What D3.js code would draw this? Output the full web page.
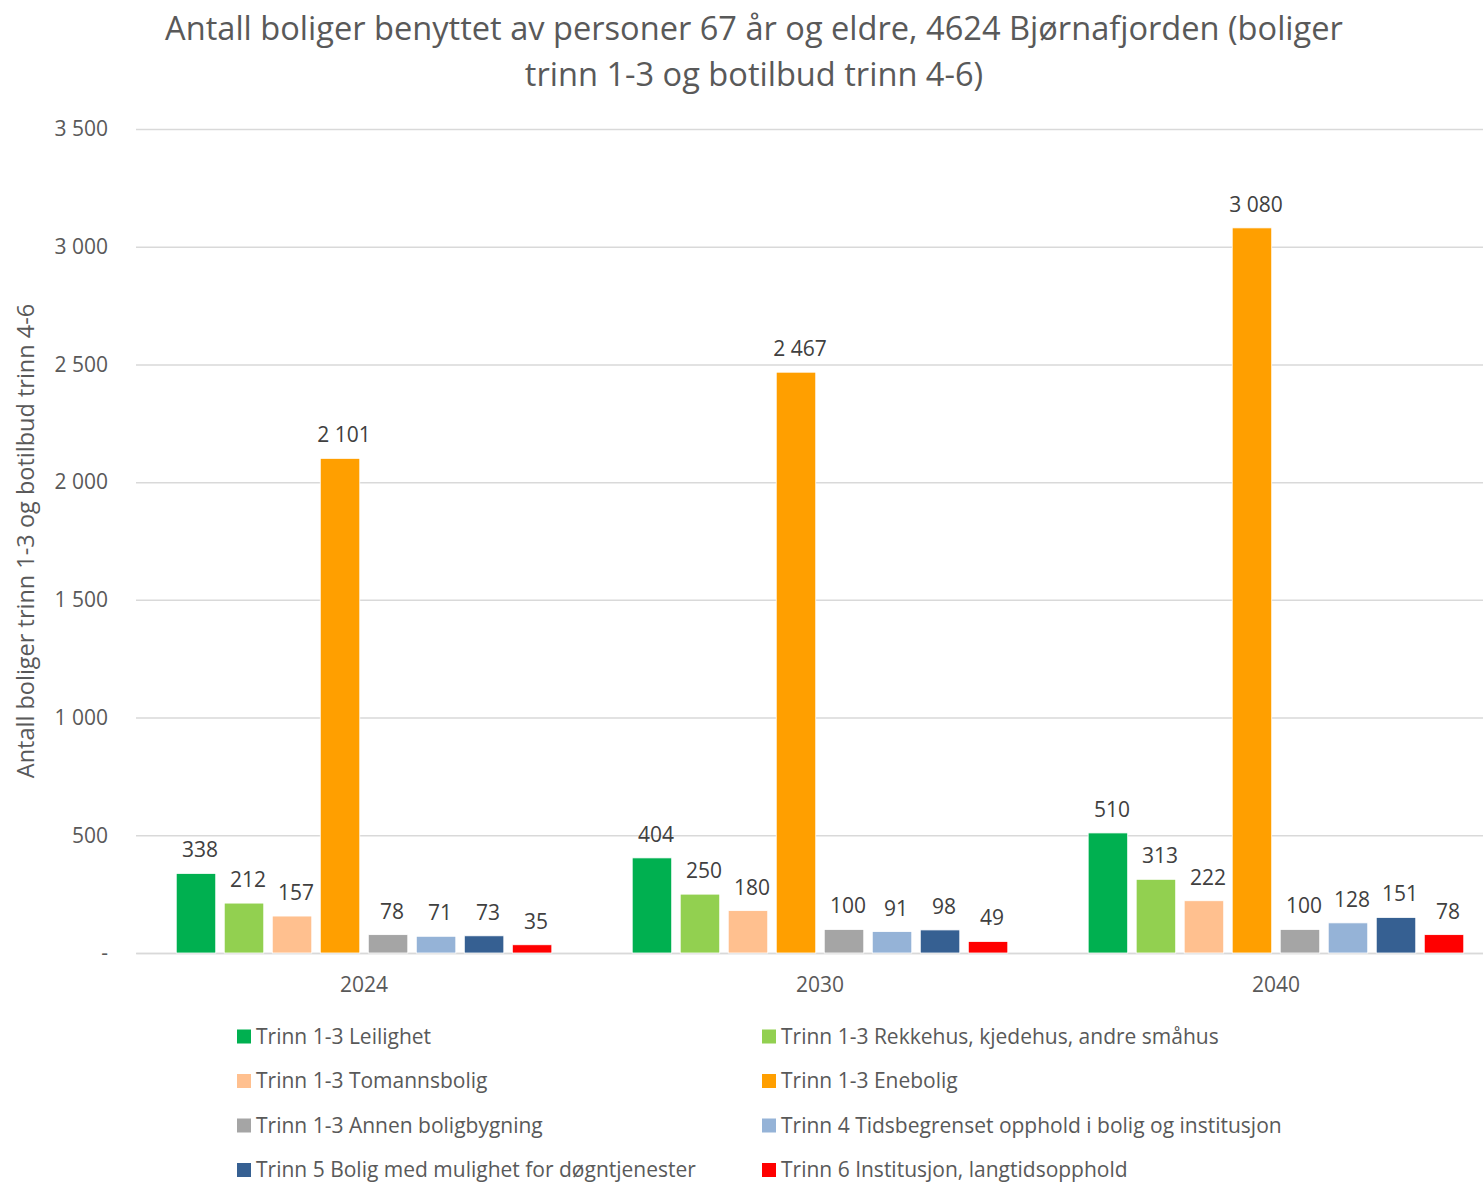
<!DOCTYPE html>
<html><head><meta charset="utf-8">
<script src="https://cdn.jsdelivr.net/npm/d3@7"></script>
<style>body{margin:0;background:#fff}svg{display:block;font-family:"Open Sans",sans-serif}</style>
</head><body>
<svg id="c" width="1483" height="1183"></svg>
<script>
const years = ["2024","2030","2040"];
const seriesNames = ["Trinn 1-3 Leilighet","Trinn 1-3 Rekkehus, kjedehus, andre småhus","Trinn 1-3 Tomannsbolig","Trinn 1-3 Enebolig","Trinn 1-3 Annen boligbygning","Trinn 4 Tidsbegrenset opphold i bolig og institusjon","Trinn 5 Bolig med mulighet for døgntjenester","Trinn 6 Institusjon, langtidsopphold"];
const seriesColors = ["#00B050","#92D050","#FFC08F","#FF9F00","#A5A5A5","#95B3D7","#366092","#FF0000"];
const values = [
  [338,404,510],
  [212,250,313],
  [157,180,222],
  [2101,2467,3080],
  [78,100,100],
  [71,91,128],
  [73,98,151],
  [35,49,78]
];
const yTicks = [0,500,1000,1500,2000,2500,3000,3500];
const titleLines = ["Antall boliger benyttet av personer 67 år og eldre, 4624 Bjørnafjorden (boliger","trinn 1-3 og botilbud trinn 4-6)"];
const yTitle = "Antall boliger trinn 1-3 og botilbud trinn 4-6";

(function(){
const loc = d3.formatLocale({decimal:",",thousands:"\u00a0",grouping:[3],currency:["","kr"]});
const fmt = loc.format(",d");
const tickFmt = v => v===0 ? "-" : fmt(v);

const svg = d3.select("#c");
const pTop = 129, pBottom = 953, pLeft = 136, pRight = 1504;
const y = d3.scaleLinear().domain([0,3500]).range([pBottom, pTop]);
const x0 = d3.scaleBand().domain(years).range([pLeft,pRight]).paddingInner(0.139).paddingOuter(0.0696);
const x1 = d3.scaleBand().domain(d3.range(seriesNames.length)).range([0,x0.bandwidth()]).padding(0.177);

svg.append("g").selectAll("text").data(titleLines).join("text")
  .attr("x",754).attr("y",(d,i)=>40+i*46).attr("text-anchor","middle")
  .attr("fill","#595959").style("font-size","32.6px").text(d=>d);

const yAxis = d3.axisLeft(y).tickValues(yTicks).tickSize(-(pRight-pLeft)).tickFormat(tickFmt).tickPadding(28);
const gy = svg.append("g").attr("transform",`translate(${pLeft},0)`).call(yAxis);
gy.select(".domain").remove();
gy.selectAll(".tick line").attr("stroke","#D9D9D9").attr("stroke-width",1.5);
gy.selectAll(".tick text").attr("fill","#595959").style("font-size","21px").attr("font-family","Open Sans");

const xAxis = d3.axisBottom(x0).tickSize(0).tickPadding(24);
const gx = svg.append("g").attr("transform",`translate(0,${pBottom})`).call(xAxis);
gx.select(".domain").attr("stroke","#D9D9D9").attr("stroke-width",1.5);
gx.selectAll(".tick text").attr("fill","#595959").style("font-size","21px").attr("font-family","Open Sans");

const groups = svg.append("g").selectAll("g").data(years).join("g")
  .attr("transform",d=>`translate(${x0(d)},0)`);
groups.selectAll("rect").data((d,yi)=>values.map((s,si)=>({si,v:s[yi]}))).join("rect")
  .attr("x",d=>x1(d.si)).attr("width",x1.bandwidth())
  .attr("y",d=>y(d.v)).attr("height",d=>pBottom-y(d.v))
  .attr("fill",d=>seriesColors[d.si]).attr("stroke","#fff").attr("stroke-width",0.8);
groups.selectAll("text").data((d,yi)=>values.map((s,si)=>({si,v:s[yi]}))).join("text")
  .attr("x",d=>x1(d.si)+x1.bandwidth()/2+4).attr("y",d=>y(d.v)-16)
  .attr("text-anchor","middle").attr("fill","#404040").style("font-size","21px")
  .text(d=>fmt(d.v));

svg.append("text").attr("transform","translate(34,541) rotate(-90)").attr("text-anchor","middle")
  .attr("fill","#595959").style("font-size","23.5px").text(yTitle);

const leg = svg.append("g").selectAll("g").data(seriesNames).join("g")
  .attr("transform",(d,i)=>`translate(${i%2===0?237:762},${1036.5+Math.floor(i/2)*44.5})`);
leg.append("rect").attr("x",0).attr("y",-7).attr("width",14).attr("height",14).attr("fill",(d,i)=>seriesColors[i]);
leg.append("text").attr("x",19).attr("y",7).attr("fill","#595959").style("font-size","21px").text(d=>d);
})();
</script>
</body></html>
